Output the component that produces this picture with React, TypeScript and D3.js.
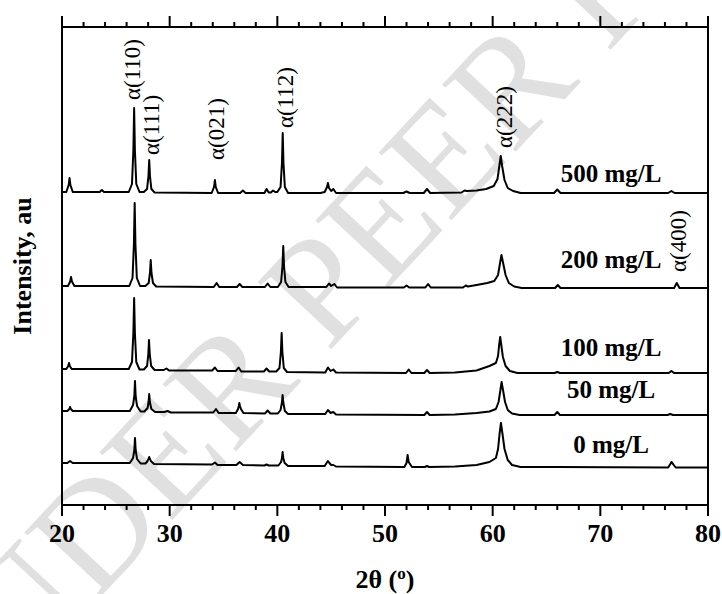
import React from 'react';
import * as d3 from 'd3';

type Pt = [number, number];

// 2θ (deg) vs intensity above each pattern's own baseline (a.u.)
const S500: Pt[] = [
  [20, 0], [20.4, 0], [20.62, 7], [20.7, 14], [20.78, 7], [21.0, 0],
  [23.5, 0], [23.7, 2], [23.9, 0],
  [26.2, 0], [26.5, 8], [26.63, 42], [26.7, 84], [26.77, 42], [26.9, 8], [27.2, 0],
  [27.6, 0], [27.9, 3], [28.03, 16], [28.1, 32], [28.17, 16], [28.3, 3], [28.6, -0.5],
  [33.9, -1], [34.12, 5], [34.2, 12], [34.28, 5], [34.5, -1],
  [36.55, -1], [36.8, 1.5], [37.05, -1],
  [38.8, -1], [39.0, 3], [39.2, -0.5], [39.4, -0.5], [39.6, 1.5], [39.8, 0],
  [40.0, 0], [40.3, 5], [40.43, 29], [40.5, 59], [40.57, 29], [40.7, 5], [41.0, -1],
  [44.0, -1], [44.4, 0], [44.62, 5], [44.7, 9], [44.8, 4], [45.0, 1], [45.2, 3], [45.45, -1],
  [51.7, -1], [52.0, 0.5], [52.3, -1],
  [53.6, -1], [53.9, 3], [54.2, -1],
  [57.1, -0.5], [57.4, 1.5], [57.6, 1],
  [58.5, 1.5], [59.4, 3], [60.1, 6], [60.45, 13], [60.62, 26], [60.75, 36], [60.88, 26], [61.1, 12], [61.4, 4], [61.9, 1], [62.6, -1],
  [65.7, -1], [66.0, 2.5], [66.3, -1],
  [76.3, -1], [76.6, 1], [76.9, -1],
  [80, -1],
];

const S200: Pt[] = [
  [20, 0], [20.55, 0], [20.76, 4.5], [20.84, 9], [20.92, 4.5], [21.15, 0],
  [26.25, 0], [26.55, 8], [26.68, 42], [26.75, 83], [26.82, 42], [26.95, 8], [27.25, 0],
  [27.75, 0], [28.05, 3], [28.17, 13], [28.24, 26], [28.31, 13], [28.45, 3], [28.75, -0.5],
  [34.1, -1], [34.36, 3], [34.6, -1],
  [36.25, -1], [36.5, 2], [36.75, -1],
  [38.85, -1], [39.1, 2.5], [39.35, -1],
  [40.05, -1], [40.35, 4], [40.48, 20], [40.55, 40], [40.62, 20], [40.75, 4], [41.05, -1],
  [44.55, -1], [44.8, 2.5], [45.0, 0], [45.3, 2], [45.55, -1.5],
  [51.75, -1.5], [52.0, 0.5], [52.25, -1.5],
  [53.75, -1.5], [54.0, 2], [54.25, -1.5],
  [57.25, -1.5], [57.5, 0.5], [57.7, -0.5],
  [58.5, 1], [59.5, 3], [60.15, 5], [60.5, 11], [60.7, 24], [60.82, 31], [60.95, 24], [61.2, 11], [61.5, 3], [62.0, -0.5], [62.7, -2],
  [65.8, -2], [66.05, 1], [66.3, -2],
  [76.85, -2], [77.1, 3], [77.35, -2],
  [80, -2],
];

const S100: Pt[] = [
  [20, 0], [20.4, 0], [20.58, 3], [20.65, 6], [20.72, 3], [20.9, 0],
  [26.2, 0], [26.5, 7], [26.63, 36], [26.7, 71], [26.77, 36], [26.9, 7], [27.2, -0.5],
  [27.6, -0.5], [27.9, 3], [28.02, 15], [28.08, 29], [28.15, 15], [28.28, 3], [28.6, -1],
  [29.45, -1], [29.7, 0.5], [29.95, -1.5],
  [33.95, -1.5], [34.2, 1.5], [34.45, -2],
  [36.15, -2], [36.4, 1.5], [36.65, -2.5],
  [38.75, -2.5], [39.0, 0.5], [39.25, -2.5],
  [39.9, -2.5], [40.2, 1], [40.33, 17], [40.4, 36], [40.47, 17], [40.6, 1], [40.9, -3],
  [44.45, -3.5], [44.7, 1.5], [44.95, -2], [45.2, -0.5], [45.45, -3.5],
  [51.95, -4], [52.2, -0.5], [52.45, -4],
  [53.65, -4], [53.9, -1], [54.15, -4],
  [56.5, -3.5], [58.5, -1.5], [59.7, 3], [60.3, 6], [60.5, 13], [60.6, 24], [60.7, 32], [60.8, 24], [60.95, 12], [61.2, 3], [61.6, -2], [62.3, -4],
  [65.75, -4], [66.0, -3], [66.25, -4],
  [76.35, -4], [76.6, -2], [76.85, -4],
  [80, -4],
];

const S50: Pt[] = [
  [20, 0], [20.5, 0], [20.68, 2], [20.75, 4], [20.82, 2], [21.0, 0],
  [26.3, 0], [26.6, 6], [26.72, 15], [26.78, 30], [26.84, 15], [26.97, 5], [27.3, -0.5],
  [27.65, -0.5], [27.95, 3], [28.04, 9], [28.1, 17], [28.16, 9], [28.3, 2], [28.65, -1],
  [29.5, -1], [29.8, 0], [30.1, -1.5],
  [34.05, -1.5], [34.3, 2], [34.55, -2],
  [36.15, -2], [36.35, 2], [36.42, 5], [36.47, 8], [36.53, 5], [36.62, 2], [36.85, -2],
  [38.85, -2.5], [39.1, 0.5], [39.35, -2.5],
  [40.05, -2.5], [40.3, 1], [40.42, 8], [40.49, 16], [40.56, 8], [40.7, 0], [41.0, -3],
  [44.45, -3], [44.7, 1], [44.95, -2], [45.2, -1], [45.45, -3.5],
  [53.65, -4], [53.9, -1], [54.15, -4],
  [56.5, -3.5], [58.5, -2], [59.7, -0.5], [60.3, 2], [60.55, 9], [60.72, 21], [60.83, 29], [60.96, 21], [61.15, 9], [61.4, 1], [61.8, -2.5], [62.5, -4],
  [65.75, -4], [66.0, -1], [66.25, -4],
  [76.25, -4], [76.5, -3], [76.75, -4],
  [80, -4],
];

const S0: Pt[] = [
  [20, 0], [20.5, 0], [20.74, 2], [21.0, 0],
  [26.3, 0], [26.6, 5], [26.72, 13], [26.78, 25], [26.84, 13], [26.97, 4], [27.3, -0.5],
  [27.75, -0.5], [27.95, 2], [28.1, 6], [28.25, 2], [28.55, -1],
  [33.95, -1.5], [34.2, 0.5], [34.45, -2],
  [36.2, -2], [36.5, 1], [36.8, -2],
  [38.8, -2.5], [39.0, -1.5], [39.2, -2.5],
  [40.1, -2.5], [40.35, 1], [40.43, 5], [40.49, 11], [40.55, 5], [40.68, 0], [41.0, -3],
  [44.4, -3], [44.6, 0.5], [44.7, 2], [44.8, 0.5], [45.0, -2], [45.2, -2], [45.45, -3.5],
  [51.8, -4], [52.0, 0], [52.1, 8], [52.2, 1], [52.5, -4],
  [53.7, -4], [53.9, -3], [54.1, -4],
  [56.5, -3.5], [58.5, -2], [59.7, 1], [60.3, 5], [60.5, 14], [60.65, 30], [60.77, 40], [60.9, 30], [61.1, 14], [61.4, 3], [61.8, -2], [62.6, -4],
  [66.0, -4],
  [76.3, -4.5], [76.5, -1], [76.6, 1], [76.75, -1], [77.0, -4.5],
  [80, -4.5],
];

const SERIES: Pt[][] = [S500, S200, S100, S50, S0];
const SERIES_LABELS = ['500 mg/L', '200 mg/L', '100 mg/L', '50 mg/L', '0 mg/L'];
const STACK_OFFSETS = [313, 219, 136, 94, 42];

const X_TICKS = [20, 30, 40, 50, 60, 70, 80];
const PEAK_LABELS = ['α(110)', 'α(111)', 'α(021)', 'α(112)', 'α(222)', 'α(400)'];
const PEAK_POS = [26.7, 28.1, 34.2, 40.5, 60.75, 77.1];

// layout (pixels)
const W = 722;
const H = 594;
const M = { left: 62, right: 14, top: 27, bottom: 89 };
const PEAK_LABEL_DX = [6, 10, 9, 10, 11, 9];
const PEAK_LABEL_Y = [100, 155, 160, 128, 148, 272];
const SERIES_LABEL_X = 611;
const SERIES_LABEL_Y = [182, 268, 356, 398, 453];

const FONT = "'Liberation Serif', 'Times New Roman', serif";

export default function App() {
  const x = d3.scaleLinear().domain([20, 80]).range([M.left, W - M.right]);
  const y = d3.scaleLinear().domain([0, 478]).range([H - M.bottom, M.top]);
  const minor = d3.range(20, 80.01, 2);
  const x0 = M.left, x1 = W - M.right, y0 = M.top, y1 = H - M.bottom;

  return (
    <svg width={W} height={H} style={{ position: 'fixed', left: 0, top: 0, background: '#fff' }}>
      <rect x={0} y={0} width={W} height={H} fill="#fff" />
      <text
        transform="translate(440,158) rotate(-47)"
        textAnchor="middle"
        dominantBaseline="central"
        fontFamily={FONT}
        fontSize={152}
        fill="#e0e0e0"
      >
        UNDER PEER REVIEW
      </text>

      {SERIES.map((s, i) => {
        const line = d3
          .line<Pt>()
          .x((d) => x(d[0]))
          .y((d) => y(d[1] + STACK_OFFSETS[i]));
        return (
          <path key={i} d={line(s) || ''} fill="none" stroke="#000" strokeWidth={2} strokeLinejoin="round" />
        );
      })}

      {/* frame */}
      <rect x={x0} y={y0} width={x1 - x0} height={y1 - y0} fill="none" stroke="#000" strokeWidth={2} />

      {/* ticks */}
      {minor.map((v) => {
        const major = X_TICKS.includes(Math.round(v));
        const len = major ? 11 : 5;
        return (
          <g key={v}>
            <line x1={x(v)} x2={x(v)} y1={y1} y2={y1 + len} stroke="#000" strokeWidth={2} />
            <line x1={x(v)} x2={x(v)} y1={y0} y2={y0 - len} stroke="#000" strokeWidth={2} />
          </g>
        );
      })}

      {X_TICKS.map((t) => (
        <text key={t} x={x(t)} y={542} textAnchor="middle" fontFamily={FONT} fontWeight="bold" fontSize={26}>
          {t}
        </text>
      ))}

      <text x={385} y={588} textAnchor="middle" fontFamily={FONT} fontWeight="bold" fontSize={26}>
        2θ (<tspan fontSize={17} dy={-9}>o</tspan><tspan dy={9}>)</tspan>
      </text>

      <text
        transform="translate(31,266) rotate(-90)"
        textAnchor="middle"
        fontFamily={FONT}
        fontWeight="bold"
        fontSize={26}
      >
        Intensity, au
      </text>

      {SERIES_LABELS.map((l, i) => (
        <text key={l} x={SERIES_LABEL_X} y={SERIES_LABEL_Y[i]} textAnchor="middle" fontFamily={FONT} fontWeight="bold" fontSize={25}>
          {l}
        </text>
      ))}

      {PEAK_LABELS.map((l, i) => (
        <text
          key={l}
          transform={`translate(${x(PEAK_POS[i]) + PEAK_LABEL_DX[i]},${PEAK_LABEL_Y[i]}) rotate(-90)`}
          fontFamily={FONT}
          fontSize={23}
        >
          {l}
        </text>
      ))}
    </svg>
  );
}
